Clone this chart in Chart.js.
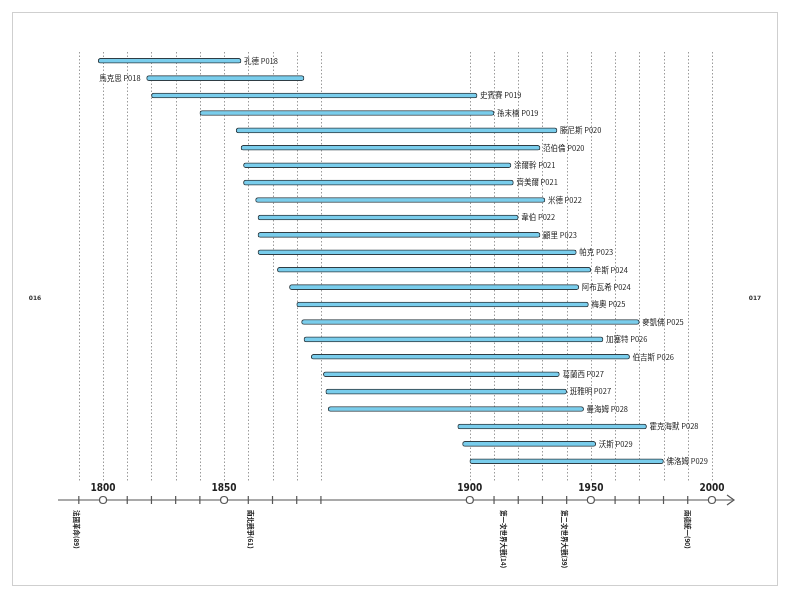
<!DOCTYPE html>
<html>
<head>
<meta charset="utf-8">
<script src="https://cdn.jsdelivr.net/npm/chart.js@4"></script>
<style>
  html, body { margin: 0; padding: 0; background: #fff; }
  #wrap { position: relative; width: 790px; height: 598px; }
</style>
</head>
<body>
<div id="wrap"><canvas id="c" width="790" height="598"></canvas></div>
<script>
// Names, birth and death years
const names = ['孔德 P018', '馬克思 P018', '史賓賽 P019', '孫末楠 P019', '滕尼斯 P020', '范伯倫 P020',
  '涂爾幹 P021', '齊美爾 P021', '米德 P022', '韋伯 P022', '顧里 P023', '帕克 P023', '牟斯 P024',
  '阿布瓦希 P024', '梅奧 P025', '麥凱佛 P025', '加塞特 P026', '伯吉斯 P026', '葛蘭西 P027',
  '班雅明 P027', '曼海姆 P028', '霍克海默 P028', '沃斯 P029', '佛洛姆 P029'];
const born = [1798, 1818, 1820, 1840, 1855, 1857, 1858, 1858, 1863, 1864, 1864, 1864, 1872,
  1877, 1880, 1882, 1883, 1886, 1891, 1892, 1893, 1895, 1897, 1900];
const died = [1857, 1883, 1903, 1910, 1936, 1929, 1917, 1918, 1931, 1920, 1929, 1944, 1950,
  1945, 1949, 1970, 1955, 1966, 1937, 1940, 1947, 1973, 1952, 1980];
const labelLeft = [1]; // 馬克思 label sits left of the bar

// Axis ticks (years) and which carry a circle + number
const tickYears = [1790, 1800, 1810, 1820, 1830, 1840, 1850, 1860, 1870, 1880, 1890,
  1900, 1910, 1920, 1930, 1940, 1950, 1960, 1970, 1980, 1990, 2000];
const majorYears = [1800, 1850, 1900, 1950, 2000];
const events = [['法國革命(89)', 1789], ['南北戰爭(61)', 1861], ['第一次世界大戰(14)', 1914],
  ['第二次世界大戰(39)', 1939], ['兩德統一(90)', 1990]];

// the axis is broken between 1890 and 1900: later years are shifted right
function pos(y) { return y >= 1894 ? y + 51.5 : y; }

const timeline = {
  id: 'timeline',
  beforeDatasetsDraw(chart) {
    const ctx = chart.ctx, x = chart.scales.x;
    ctx.save();
    ctx.strokeStyle = '#9a9a9a';
    ctx.lineWidth = 1;
    ctx.setLineDash([1.5, 2]);
    tickYears.forEach(y => {
      const px = Math.round(x.getPixelForValue(pos(y))) + 0.5;
      ctx.beginPath(); ctx.moveTo(px, 52); ctx.lineTo(px, 482); ctx.stroke();
    });
    ctx.restore();
  },
  afterDraw(chart) {
    const ctx = chart.ctx, x = chart.scales.x, ay = 500;
    ctx.save();
    // frame
    ctx.strokeStyle = '#cfcfcf';
    ctx.strokeRect(12.5, 12.5, 765, 573);
    // page numbers
    ctx.fillStyle = '#333';
    ctx.font = 'bold 6px "DejaVu Sans"';
    ctx.textAlign = 'center'; ctx.textBaseline = 'middle';
    ctx.fillText('016', 35, 298);
    ctx.fillText('017', 755, 298);
    // axis line + arrow
    ctx.strokeStyle = '#555'; ctx.lineWidth = 1.2;
    ctx.beginPath(); ctx.moveTo(58, ay); ctx.lineTo(733, ay); ctx.stroke();
    ctx.beginPath(); ctx.moveTo(727, ay - 5); ctx.lineTo(734, ay); ctx.lineTo(727, ay + 5); ctx.stroke();
    tickYears.forEach(y => {
      const px = x.getPixelForValue(pos(y));
      if (majorYears.includes(y)) {
        ctx.beginPath(); ctx.arc(px, ay, 3.5, 0, Math.PI * 2);
        ctx.fillStyle = '#fff'; ctx.fill(); ctx.stroke();
        ctx.fillStyle = '#222';
        ctx.font = 'bold 10px "Liberation Sans Narrow", "DejaVu Sans Condensed"';
        ctx.textBaseline = 'bottom';
        ctx.fillText(String(y), px, ay - 7);
      } else {
        ctx.beginPath(); ctx.moveTo(px, ay - 4); ctx.lineTo(px, ay + 4); ctx.stroke();
      }
    });
    // events, vertical text
    ctx.fillStyle = '#222';
    ctx.font = 'bold 6.5px "Noto Sans CJK TC"';
    events.forEach(([t, y]) => {
      const px = x.getPixelForValue(pos(y));
      ctx.save();
      ctx.translate(px, ay + 10);
      ctx.rotate(Math.PI / 2);
      ctx.textAlign = 'left'; ctx.textBaseline = 'middle';
      ctx.fillText(t, 0, 0);
      ctx.restore();
    });
    // bar labels
    ctx.font = '7.5px "Noto Sans CJK TC"';
    ctx.textBaseline = 'middle';
    const meta = chart.getDatasetMeta(0);
    meta.data.forEach((bar, i) => {
      const left = labelLeft.includes(i);
      ctx.textAlign = left ? 'right' : 'left';
      ctx.fillText(names[i], left ? bar.base - 6 : bar.x + 3, bar.y);
    });
    ctx.restore();
  }
};

new Chart(document.getElementById('c'), {
  type: 'bar',
  data: {
    labels: names,
    datasets: [{
      data: born.map((b, i) => [pos(b), pos(died[i])]),
      backgroundColor: '#79cdec',
      borderColor: '#2f3d44',
      borderWidth: 1,
      borderSkipped: false,
      borderRadius: 3,
      barThickness: 5
    }]
  },
  options: {
    indexAxis: 'y',
    responsive: false,
    animation: false,
    layout: { padding: { left: 58, right: 57, top: 52, bottom: 128 } },
    plugins: { legend: { display: false }, tooltip: { enabled: false } },
    scales: {
      x: { type: 'linear', min: 1781.4, max: 2060.2, display: false },
      y: { display: false }
    }
  },
  plugins: [timeline]
});
</script>
</body>
</html>
